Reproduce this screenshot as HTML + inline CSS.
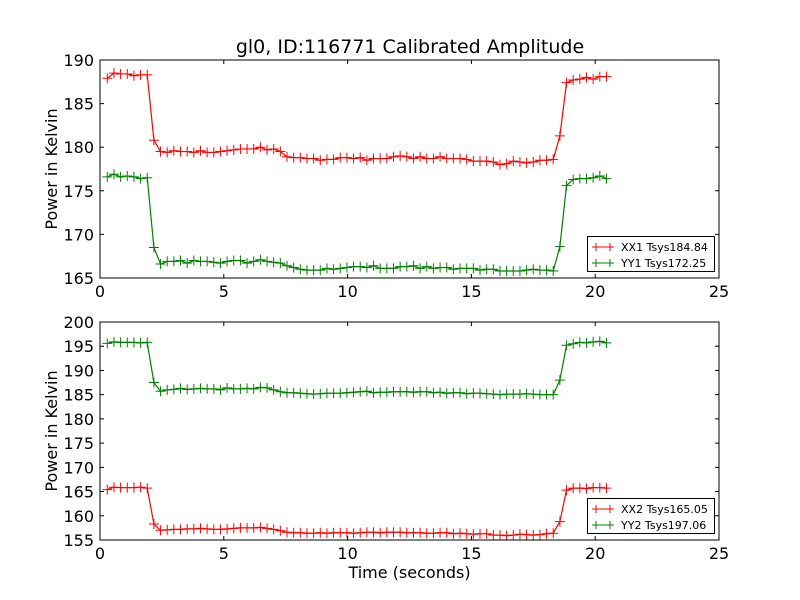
<!DOCTYPE html>
<html><head><meta charset="utf-8"><style>
html,body{margin:0;padding:0;background:#fff;}
svg{display:block;font-family:"DejaVu Sans","Liberation Sans",sans-serif;}
</style></head><body>
<svg id="chart" width="800" height="600" viewBox="0 0 800 600"></svg>
<script>
const xx1=[187.9,188.5,188.4,188.4,188.2,188.3,188.3,180.8,
179.5,179.4,179.6,179.5,179.5,179.4,179.6,179.4,179.4,
179.5,179.6,179.7,179.8,179.8,179.8,180.0,179.7,179.8,
179.5,178.9,178.8,178.8,178.7,178.7,178.5,178.6,178.6,
178.8,178.8,178.7,178.8,178.5,178.7,178.7,178.7,178.9,
179.0,178.9,178.7,178.9,178.7,178.7,178.9,178.7,178.7,
178.7,178.6,178.4,178.4,178.4,178.3,178.0,178.1,178.4,
178.3,178.2,178.3,178.5,178.5,178.6,181.3,
187.4,187.7,187.8,188.0,187.8,188.1,188.1];
const yy1=[176.6,176.9,176.6,176.7,176.6,176.4,176.5,168.5,
166.6,166.9,166.9,167.0,166.7,167.0,166.9,166.9,166.8,
166.7,166.9,167.0,167.0,166.7,166.9,167.1,166.9,166.8,
166.7,166.4,166.2,166.0,165.9,165.9,165.9,166.1,166.0,
166.1,166.2,166.3,166.3,166.2,166.4,166.1,166.1,166.1,
166.3,166.3,166.4,166.1,166.3,166.1,166.2,166.2,166.0,
166.1,166.1,166.1,165.9,166.0,166.0,165.8,165.8,165.8,
165.8,165.9,166.0,165.9,165.9,165.8,168.6,
175.6,176.3,176.4,176.4,176.5,176.7,176.4];
const yy2=[195.6,195.9,195.8,195.8,195.8,195.7,195.8,187.5,
185.7,186.0,186.1,186.3,186.1,186.2,186.3,186.2,186.2,
186.0,186.4,186.2,186.2,186.3,186.2,186.5,186.4,186.0,
185.6,185.4,185.4,185.3,185.2,185.1,185.2,185.3,185.3,
185.3,185.4,185.5,185.6,185.7,185.4,185.5,185.5,185.6,
185.6,185.6,185.5,185.6,185.6,185.4,185.5,185.3,185.4,
185.4,185.2,185.3,185.3,185.2,185.1,185.0,185.1,185.1,
185.1,185.2,185.1,185.0,185.0,185.0,188.0,
195.2,195.5,195.8,195.7,195.9,196.0,195.7];
const xx2=[165.4,165.9,165.8,165.8,165.8,165.9,165.7,158.3,
157.0,157.1,157.2,157.2,157.3,157.3,157.4,157.3,157.2,
157.2,157.3,157.4,157.5,157.5,157.5,157.6,157.4,157.2,
156.9,156.6,156.5,156.5,156.4,156.4,156.5,156.4,156.5,
156.5,156.5,156.4,156.5,156.6,156.6,156.5,156.6,156.6,
156.6,156.5,156.5,156.5,156.4,156.4,156.5,156.5,156.3,
156.4,156.3,156.2,156.3,156.3,156.0,156.0,155.9,156.0,
156.2,156.1,156.0,156.1,156.3,156.4,158.8,
165.3,165.7,165.7,165.6,165.8,165.8,165.7];
const t0=0.295, dt=0.2688;
const xTicks=[0,5,10,15,20,25];
const yTicksTop=[165,170,175,180,185,190];
const yTicksBot=[155,160,165,170,175,180,185,190,195,200];
const legendTop=["XX1 Tsys184.84","YY1 Tsys172.25"];
const legendBot=["XX2 Tsys165.05","YY2 Tsys197.06"];

const NS="http://www.w3.org/2000/svg";
const svg=document.getElementById('chart');
function mk(tag,attrs,parent){const e=document.createElementNS(NS,tag);for(const k in attrs)e.setAttribute(k,attrs[k]);(parent||svg).appendChild(e);return e;}
const L=100,R=719;
const xs=v=>L+(v-0)/(25-0)*(R-L);

function panel(name,top,bot,ymin,ymax,yticks,series,legend,showXLabel){
  const g=mk('g',{});
  
  
  const ys=v=>bot-(v-ymin)/(ymax-ymin)*(bot-top);
  series.forEach(s=>{
    let d='';
    s.vals.forEach((v,i)=>{const x=xs(t0+i*dt),y=ys(v);d+=(i?'L':'M')+x.toFixed(2)+' '+y.toFixed(2);});
    const p=mk('path',{d:d,fill:'none',stroke:s.color,'stroke-width':1.2},g);
    
    
    let m='';
    s.vals.forEach((v,i)=>{const x=xs(t0+i*dt),y=ys(v);m+=`M${(x-5).toFixed(2)} ${y.toFixed(2)}h10M${x.toFixed(2)} ${(y-5).toFixed(2)}v10`;});
    const mp=mk('path',{d:m,fill:'none',stroke:s.color,'stroke-width':1},g);
    
    
  });
  const fr=mk('rect',{x:L,y:top,width:R-L,height:bot-top,fill:'none',stroke:'#000','stroke-width':1},g);
  
  
  xTicks.forEach(v=>{
    const x=xs(v);
    mk('path',{d:`M${x} ${bot}v-4M${x} ${top}v4`,stroke:'#000'},g);
    const t=mk('text',{x:x,y:bot+19,'text-anchor':'middle','font-size':16},g);
    t.textContent=v;
    
    
  });
  yticks.forEach(v=>{
    const y=ys(v);
    mk('path',{d:`M${L} ${y}h4M${R} ${y}h-4`,stroke:'#000'},g);
    const t=mk('text',{x:L-6,y:y+6,'text-anchor':'end','font-size':16},g);
    t.textContent=v;
    
    
  });
  const yl=mk('text',{x:0,y:0,'text-anchor':'middle','font-size':16,transform:`translate(57,${(top+bot)/2}) rotate(-90)`},g);
  yl.textContent='Power in Kelvin';
  
  
  const lg=mk('g',{},g);
  
  
  mk('rect',{x:587.5,y:bot-41.5,width:127,height:35,fill:'#fff',stroke:'#000','stroke-width':1},lg);
  legend.forEach((txt,i)=>{
    const y=bot-31+i*16;
    const c=series[i].color;
    mk('path',{d:`M592 ${y}h22M596 ${y-4}v8M610 ${y-4}v8`,stroke:c,'stroke-width':1},lg);
    const t=mk('text',{x:621,y:y+4,'font-size':11},lg);
    t.textContent=txt;
    
    
  });
  if(showXLabel){
    const xl=mk('text',{x:(L+R)/2,y:bot+38,'text-anchor':'middle','font-size':16},g);
    xl.textContent='Time (seconds)';
    
    
  }
}
const title=mk('text',{x:410,y:53,'text-anchor':'middle','font-size':19});
title.textContent='gl0, ID:116771 Calibrated Amplitude';


panel('top-panel',60,278,165,190,yTicksTop,[{name:'xx1',vals:xx1,color:'#ff0000'},{name:'yy1',vals:yy1,color:'#008000'}],legendTop,false);
panel('bottom-panel',322,540,155,200,yTicksBot,[{name:'xx2',vals:xx2,color:'#ff0000'},{name:'yy2',vals:yy2,color:'#008000'}],legendBot,true);
</script>
</body></html>
